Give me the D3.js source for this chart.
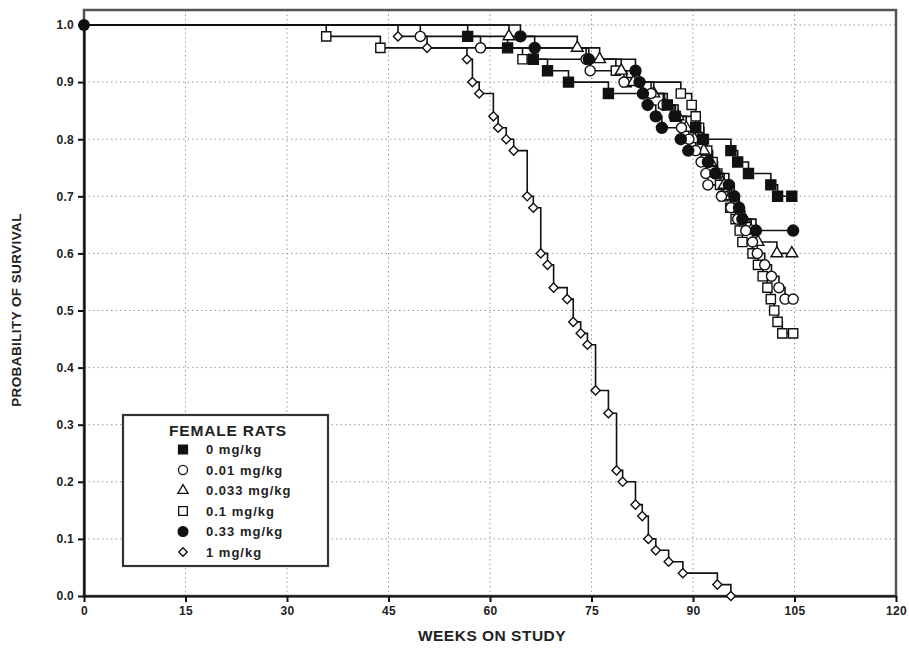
<!DOCTYPE html>
<html>
<head>
<meta charset="utf-8">
<script src="https://cdn.jsdelivr.net/npm/d3@7"></script>
<style>
  body { margin: 0; background: #fff; }
  text { font-family: 'Liberation Sans Narrow', 'Arial Narrow', 'Liberation Sans', sans-serif; font-weight: bold; fill: #222; }
</style>
</head>
<body>
<div id="chart"></div>
<script>
// tick labels
const xTicks = [0, 15, 30, 45, 60, 75, 90, 105, 120];
const yTicks = [0.0, 0.1, 0.2, 0.3, 0.4, 0.5, 0.6, 0.7, 0.8, 0.9, 1.0];

// [week, probability of survival] at each step
const dose0 = [[0,1],[56.7,0.98],[62.6,0.96],[66.4,0.94],[68.5,0.92],[71.6,0.90],[77.5,0.88],[86.2,0.86],[87.4,0.84],[90.4,0.82],[91.4,0.80],[95.6,0.78],[96.6,0.76],[98.2,0.74],[101.5,0.72],[102.5,0.70],[104.6,0.70]];
const dose001 = [[0,1],[49.7,0.98],[58.6,0.96],[74.2,0.94],[74.8,0.92],[79.8,0.90],[83.8,0.88],[85.6,0.86],[87.2,0.84],[88.3,0.82],[89.4,0.80],[90.4,0.78],[91.2,0.76],[91.9,0.74],[92.2,0.72],[94.2,0.70],[95.6,0.68],[96.6,0.66],[97.8,0.64],[98.8,0.62],[99.5,0.60],[100.6,0.58],[101.6,0.56],[102.7,0.54],[103.6,0.52],[104.8,0.52]];
const dose0033 = [[0,1],[62.8,0.98],[72.9,0.96],[76.2,0.94],[79.4,0.92],[81.2,0.90],[84.2,0.88],[85.8,0.86],[87.8,0.84],[89.0,0.82],[90.2,0.80],[91.6,0.78],[92.6,0.76],[93.6,0.74],[94.6,0.72],[95.6,0.70],[96.8,0.68],[97.6,0.66],[98.6,0.64],[99.6,0.62],[102.4,0.60],[104.6,0.60]];
const dose01 = [[0,1],[35.8,0.98],[43.8,0.96],[64.8,0.94],[78.6,0.92],[80.2,0.90],[88.2,0.88],[89.8,0.86],[90.4,0.84],[90.9,0.82],[91.6,0.80],[92.1,0.78],[92.9,0.76],[93.6,0.74],[94.0,0.72],[94.5,0.70],[95.5,0.68],[96.3,0.66],[96.9,0.64],[97.3,0.62],[98.8,0.60],[99.6,0.58],[100.3,0.56],[101.0,0.54],[101.5,0.52],[102.0,0.50],[102.5,0.48],[103.2,0.46],[104.8,0.46]];
const dose033 = [[0,1],[64.5,0.98],[66.6,0.96],[74.6,0.94],[81.5,0.92],[82.1,0.90],[82.6,0.88],[83.3,0.86],[84.5,0.84],[85.4,0.82],[88.2,0.80],[89.3,0.78],[92.2,0.76],[93.3,0.74],[95.3,0.72],[96.1,0.70],[96.8,0.68],[97.3,0.66],[99.3,0.64],[104.8,0.64]];
const dose1 = [[0,1],[46.4,0.98],[50.7,0.96],[56.6,0.94],[57.4,0.90],[58.4,0.88],[60.5,0.84],[61.2,0.82],[62.4,0.80],[63.5,0.78],[65.5,0.70],[66.4,0.68],[67.5,0.60],[68.5,0.58],[69.4,0.54],[71.4,0.52],[72.3,0.48],[73.4,0.46],[74.4,0.44],[75.6,0.36],[77.5,0.32],[78.7,0.22],[79.6,0.20],[81.5,0.16],[82.5,0.14],[83.4,0.10],[84.5,0.08],[86.4,0.06],[88.5,0.04],[93.6,0.02],[95.6,0.0]];

const legendTitle = "FEMALE RATS";
const legendLabels = ["0 mg/kg", "0.01 mg/kg", "0.033 mg/kg", "0.1 mg/kg", "0.33 mg/kg", "1 mg/kg"];

const width = 909, height = 652;
const svg = d3.select("#chart").append("svg")
    .attr("width", width)
    .attr("height", height);

const x = d3.scaleLinear().domain([0, 120]).range([84, 896]);
const y = d3.scaleLinear().domain([0, 1]).range([596, 25]);

// grid
svg.append("g").selectAll("line.gx")
    .data(xTicks.filter(d => d > 0 && d < 120))
    .join("line")
    .attr("x1", d => x(d)).attr("x2", d => x(d))
    .attr("y1", 10).attr("y2", y(0))
    .attr("stroke", "#999").attr("stroke-width", 1)
    .attr("stroke-dasharray", "1.5,3");

svg.append("g").selectAll("line.gy")
    .data(yTicks.filter(d => d > 0))
    .join("line")
    .attr("x1", x(0)).attr("x2", x(120))
    .attr("y1", d => y(d)).attr("y2", d => y(d))
    .attr("stroke", "#999").attr("stroke-width", 1)
    .attr("stroke-dasharray", "1.5,3");

// frame
svg.append("rect")
    .attr("x", x(0)).attr("y", 10)
    .attr("width", x(120) - x(0)).attr("height", y(0) - 10)
    .attr("fill", "none").attr("stroke", "#555").attr("stroke-width", 2.5);

// axes
const yAxis = svg.append("g")
    .attr("transform", `translate(${x(0)},0)`)
    .call(d3.axisLeft(y).tickValues(yTicks).tickFormat(d3.format(".1f")).tickSize(6).tickSizeOuter(0));
const xAxis = svg.append("g")
    .attr("transform", `translate(0,${y(0)})`)
    .call(d3.axisBottom(x).tickValues(xTicks).tickSize(6).tickSizeOuter(0));

[xAxis, yAxis].forEach(g => {
    g.select(".domain").attr("stroke", "#111").attr("stroke-width", 2.2);
    g.selectAll(".tick line").attr("stroke", "#111").attr("stroke-width", 2);
    g.selectAll(".tick text").attr("font-size", 12).style("font-weight", "bold")
        .style("letter-spacing", "0.3px");
});
yAxis.selectAll(".tick text").attr("x", -10);
xAxis.selectAll(".tick text").attr("y", 10);

svg.append("text")
    .attr("x", 492).attr("y", 641)
    .attr("text-anchor", "middle")
    .attr("font-size", 15.5)
    .style("letter-spacing", "0.5px")
    .text("WEEKS ON STUDY");

svg.append("text")
    .attr("transform", "translate(21,310) rotate(-90)")
    .attr("text-anchor", "middle")
    .attr("font-size", 13.5)
    .style("letter-spacing", "0.4px")
    .text("PROBABILITY OF SURVIVAL");

// series
const groups = [
    {data: dose01, type: d3.symbolSquare, filled: false, size: 85, rot: 0},
    {data: dose0033, type: d3.symbolTriangle, filled: false, size: 60, rot: 0},
    {data: dose001, type: d3.symbolCircle, filled: false, size: 80, rot: 0},
    {data: dose0, type: d3.symbolSquare, filled: true, size: 100, rot: 0},
    {data: dose033, type: d3.symbolCircle, filled: true, size: 95, rot: 0},
    {data: dose1, type: d3.symbolSquare, filled: false, size: 42, rot: 45}
];

const line = d3.line()
    .x(d => x(d[0]))
    .y(d => y(d[1]))
    .curve(d3.curveStepAfter);

groups.forEach(g => {
    svg.append("path")
        .datum(g.data)
        .attr("fill", "none")
        .attr("stroke", "#111")
        .attr("stroke-width", 1.6)
        .attr("d", line);
});

groups.forEach(g => {
    svg.append("g").selectAll("path")
        .data(g.data.slice(1))
        .join("path")
        .attr("transform", d => `translate(${x(d[0])},${y(d[1])}) rotate(${g.rot})`)
        .attr("d", d3.symbol().type(g.type).size(g.size))
        .attr("fill", g.filled ? "#111" : "#fff")
        .attr("stroke", "#111")
        .attr("stroke-width", 1.4);
});

// starting point marker (all groups at 1.0)
svg.append("path")
    .attr("transform", `translate(${x(dose033[0][0])},${y(dose033[0][1])})`)
    .attr("d", d3.symbol().type(d3.symbolCircle).size(110))
    .attr("fill", "#111");

// legend
const legend = svg.append("g");
legend.append("rect")
    .attr("x", 123).attr("y", 415)
    .attr("width", 205).attr("height", 151)
    .attr("fill", "#fff").attr("stroke", "#333").attr("stroke-width", 2.2);
legend.append("text")
    .attr("x", 228).attr("y", 436)
    .attr("text-anchor", "middle")
    .attr("font-size", 15.5)
    .style("letter-spacing", "0.8px")
    .text(legendTitle);

const legendSymbols = [
    {type: d3.symbolSquare, filled: true, size: 80, rot: 0},
    {type: d3.symbolCircle, filled: false, size: 65, rot: 0},
    {type: d3.symbolTriangle, filled: false, size: 45, rot: 0},
    {type: d3.symbolSquare, filled: false, size: 75, rot: 0},
    {type: d3.symbolCircle, filled: true, size: 75, rot: 0},
    {type: d3.symbolSquare, filled: false, size: 36, rot: 45}
];

legendLabels.forEach((label, i) => {
    const cy = 449.5 + i * 20.5;
    const s = legendSymbols[i];
    legend.append("path")
        .attr("transform", `translate(183,${cy}) rotate(${s.rot})`)
        .attr("d", d3.symbol().type(s.type).size(s.size))
        .attr("fill", s.filled ? "#111" : "#fff")
        .attr("stroke", "#111")
        .attr("stroke-width", 1.3);
    legend.append("text")
        .attr("x", 206).attr("y", cy + 4.5)
        .attr("font-size", 13)
        .style("letter-spacing", "1px")
        .text(label);
});
</script>
</body>
</html>
